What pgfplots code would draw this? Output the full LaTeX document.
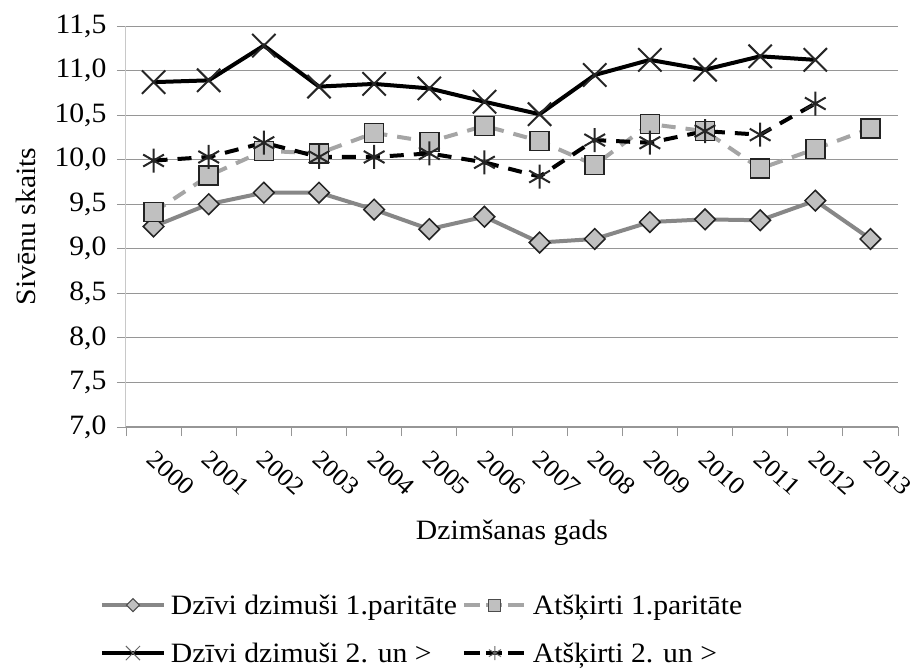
\documentclass[border=0pt]{standalone}
\usepackage{fontspec}
\setmainfont[FakeStretch=1.06]{Liberation Serif}
\newfontfamily\tickfont[FakeStretch=1.06]{Liberation Serif}
\usepackage{pgfplots}
\pgfplotsset{compat=1.18}
\definecolor{sgray}{RGB}{135,135,135}
\definecolor{dgray}{RGB}{165,165,165}
\definecolor{mfill}{RGB}{192,192,192}
\definecolor{medge}{RGB}{35,35,35}
\definecolor{gridc}{RGB}{150,150,150}
\definecolor{yaxc}{RGB}{200,200,200}
\begin{document}
\begin{tikzpicture}
\path[use as bounding box] (-126pt,-241pt) rectangle (789pt,427pt);
\begin{axis}[
  at={(0pt,0pt)}, anchor=south west,
  scale only axis, width=772pt, height=401pt,
  xmin=-0.5, xmax=13.5, ymin=7, ymax=11.5,
  axis x line*=bottom, axis y line*=left,
  x axis line style={draw=gridc, line width=1pt},
  y axis line style={draw=yaxc, line width=1pt},
  ymajorgrids, grid style={draw=gridc, line width=0.8pt},
  ytick={7,7.5,...,11.5},
  tick align=outside, major tick length=9pt,
  every tick/.style={draw=gridc, line width=0.8pt},
  xtick={-0.5,0.5,...,13.5}, xticklabels={},
  extra x ticks={0,1,...,13},
  extra x tick labels={2000,2001,2002,2003,2004,2005,2006,2007,2008,2009,2010,2011,2012,2013},
  extra x tick style={major tick length=0pt, tick style={draw=none}},
  xticklabel style={font=\tickfont\fontsize{25}{30}\selectfont, xshift=3pt, yshift=-17pt, rotate=-42, anchor=north west},
  yticklabel={\tickfont\fontsize{28}{30}\selectfont\pgfmathprintnumber[assume math mode=true,fixed,fixed zerofill,precision=1,use comma]{\tick}},
  yticklabel style={xshift=-7pt},
  label style={font=\fontsize{28}{32}\selectfont},
  xlabel={Dzimšanas gads},
  ylabel={Sivēnu skaits},
  xlabel style={at={(axis description cs:0.5,-0.265)}, anchor=center},
  ylabel style={at={(axis description cs:-0.13,0.5)}, anchor=center},
  legend columns=2,
  legend style={at={(axis description cs:-0.034,-0.41)}, anchor=north west,
     draw=none, fill=none, font=\fontsize{28}{32}\selectfont,
     row sep=21pt, column sep=2pt, inner sep=0pt,
     nodes={inner sep=3pt}},
  legend cell align=left,
  legend image code/.code={\draw[mark repeat=2,mark phase=2,#1] plot coordinates {(0pt,0pt) (31pt,0pt) (62pt,0pt)};},
]
% Dzivi dzimusi 1.paritate
\addplot[forget plot, draw=sgray, line width=4pt, mark=square*, mark size=7.3pt,
  mark options={solid, fill=mfill, draw=medge, line width=1.5pt, rotate=45}]
  table[row sep=\\]{x y\\ 0 9.25\\ 1 9.50\\ 2 9.63\\ 3 9.63\\ 4 9.44\\ 5 9.22\\ 6 9.36\\ 7 9.07\\ 8 9.11\\ 9 9.30\\ 10 9.33\\ 11 9.32\\ 12 9.54\\ 13 9.11\\};
% Atskirti 1.paritate
\addplot[forget plot, draw=dgray, line width=4pt, dash pattern=on 14pt off 10pt, mark=square*, mark size=9.5pt,
  mark options={solid, fill=mfill, draw=medge, line width=1.5pt}]
  table[row sep=\\]{x y\\ 0 9.41\\ 1 9.82\\ 2 10.10\\ 3 10.07\\ 4 10.30\\ 5 10.20\\ 6 10.38\\ 7 10.21\\ 8 9.94\\ 9 10.40\\ 10 10.32\\ 11 9.90\\ 12 10.12\\ 13 10.35\\};
% Dzivi dzimusi 2. un >
\addplot[forget plot, draw=black, line width=4pt, mark=x, mark size=16.5pt,
  mark options={solid, draw=black!85, line width=2pt}]
  table[row sep=\\]{x y\\ 0 10.87\\ 1 10.89\\ 2 11.28\\ 3 10.82\\ 4 10.85\\ 5 10.80\\ 6 10.65\\ 7 10.51\\ 8 10.95\\ 9 11.12\\ 10 11.01\\ 11 11.16\\ 12 11.12\\};
% Atskirti 2. un >
\addplot[forget plot, draw=black, line width=4pt, dash pattern=on 14pt off 10pt, mark=asterisk, mark size=12pt,
  mark options={solid, draw=black!85, line width=2pt}]
  table[row sep=\\]{x y\\ 0 9.99\\ 1 10.03\\ 2 10.19\\ 3 10.03\\ 4 10.03\\ 5 10.07\\ 6 9.97\\ 7 9.81\\ 8 10.22\\ 9 10.19\\ 10 10.32\\ 11 10.28\\ 12 10.63\\};
% legend
\addlegendimage{draw=sgray, line width=4pt, mark=square*, mark size=4.6pt,
  mark options={solid, fill=mfill, draw=black!70, line width=1pt, rotate=45}}
\addlegendentry{Dzīvi dzimuši 1.paritāte}
\addlegendimage{draw=dgray, line width=4pt, dash pattern=on 16pt off 6pt, mark=square*, mark size=6pt,
  mark options={solid, fill=mfill, draw=black!70, line width=1pt}}
\addlegendentry{Atšķirti 1.paritāte}
\addlegendimage{draw=black, line width=4pt, mark=x, mark size=10pt,
  mark options={solid, draw=black!60, line width=1pt}}
\addlegendentry{Dzīvi dzimuši 2. un >}
\addlegendimage{draw=black, line width=4pt, dash pattern=on 16pt off 6pt, mark=asterisk, mark size=7pt,
  mark options={solid, draw=black!60, line width=1pt}}
\addlegendentry{Atšķirti 2. un >}
\end{axis}
\end{tikzpicture}
\end{document}
